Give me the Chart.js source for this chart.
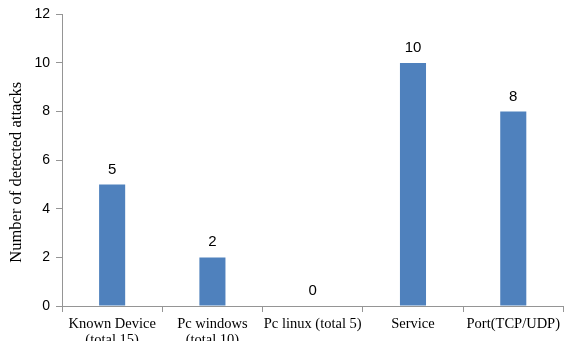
<!DOCTYPE html>
<html>
<head>
<meta charset="utf-8">
<script src="https://cdn.jsdelivr.net/npm/chart.js@4"></script>
<style>
  html, body { margin: 0; padding: 0; background: #fff; }
  #wrap { width: 565px; height: 341px; position: relative; }
</style>
</head>
<body>
<div id="wrap"><canvas id="c" width="565" height="341"></canvas></div>
<script>
const categories = [
  ['Known Device', '(total 15)'],
  ['Pc windows', '(total 10)'],
  'Pc linux (total 5)',
  'Service',
  'Port(TCP/UDP)'
];
const detectedAttacks = [5, 2, 0, 10, 8];
const yTicks = [0, 2, 4, 6, 8, 10, 12];
const yAxisTitle = 'Number of detected attacks';

const barBlue = '#4F81BD';
const axisGrey = '#959595';

// Draws each bar's value just above its top
const valueLabels = {
  id: 'valueLabels',
  afterDatasetsDraw(chart) {
    const ctx = chart.ctx;
    const meta = chart.getDatasetMeta(0);
    ctx.save();
    ctx.fillStyle = '#000';
    ctx.font = '15px "Liberation Sans", Arial, sans-serif';
    ctx.textAlign = 'center';
    ctx.textBaseline = 'alphabetic';
    meta.data.forEach((bar, i) => {
      ctx.fillText(String(chart.data.datasets[0].data[i]), bar.x, bar.y - 11);
    });
    ctx.restore();
  }
};

// Vertical y-axis title, placed a little below the plot's middle
const yTitle = {
  id: 'yTitle',
  afterDraw(chart) {
    const ctx = chart.ctx;
    const area = chart.chartArea;
    ctx.save();
    ctx.fillStyle = '#000';
    ctx.font = '16.5px "Liberation Serif", "Times New Roman", serif';
    ctx.textAlign = 'center';
    ctx.textBaseline = 'middle';
    ctx.translate(16.5, (area.top + area.bottom) / 2 + 12);
    ctx.rotate(-Math.PI / 2);
    ctx.fillText(yAxisTitle, 0, 0);
    ctx.restore();
  }
};

new Chart(document.getElementById('c'), {
  type: 'bar',
  data: {
    labels: categories,
    datasets: [{
      data: detectedAttacks,
      backgroundColor: barBlue,
      borderWidth: 0,
      categoryPercentage: 0.52,
      barPercentage: 0.5
    }]
  },
  options: {
    responsive: false,
    animation: false,
    devicePixelRatio: 1,
    layout: { padding: { top: 7, right: 0, left: 4, bottom: 0 } },
    plugins: {
      legend: { display: false },
      tooltip: { enabled: false }
    },
    scales: {
      x: {
        grid: {
          offset: true,
          drawOnChartArea: false,
          drawTicks: true,
          tickLength: 6,
          color: axisGrey
        },
        border: { color: axisGrey, width: 1 },
        ticks: {
          color: '#000',
          maxRotation: 0,
          autoSkip: false,
          padding: 5,
          font: { family: '"Liberation Serif", "Times New Roman", serif', size: 14.5, lineHeight: 1.05 }
        },
        afterFit(scale) { scale.height = 35; }
      },
      y: {
        min: 0,
        max: 12,
        afterBuildTicks(scale) { scale.ticks = yTicks.map(v => ({ value: v })); },
        grid: {
          drawOnChartArea: false,
          drawTicks: true,
          tickLength: 6,
          color: axisGrey
        },
        border: { color: axisGrey, width: 1 },
        ticks: {
          color: '#000',
          padding: 6,
          font: { family: '"Liberation Sans", Arial, sans-serif', size: 14 }
        },
        afterFit(scale) { scale.width = 58; }
      }
    }
  },
  plugins: [valueLabels, yTitle]
});
</script>
</body>
</html>
